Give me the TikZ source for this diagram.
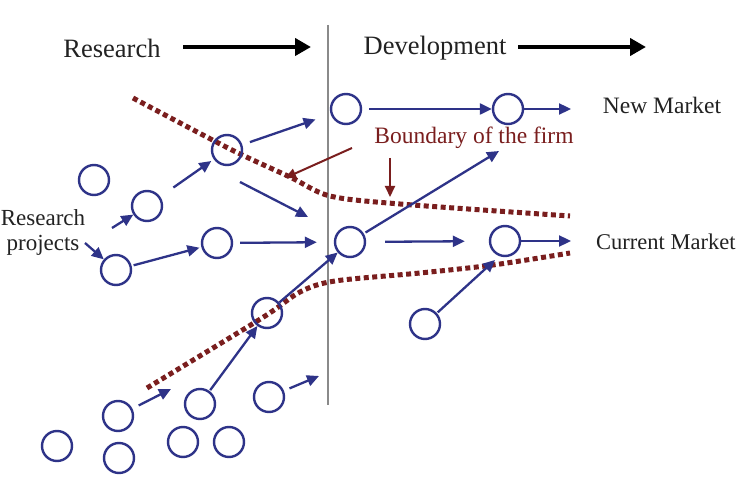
\documentclass[tikz,border=0pt]{standalone}
\usepackage{fontspec}
\setmainfont{Liberation Serif}
\usetikzlibrary{arrows.meta}
\definecolor{navy}{HTML}{2E3388}
\definecolor{firm}{HTML}{7A1E1E}
\definecolor{vline}{HTML}{8A8A8A}
\definecolor{txt}{HTML}{222222}
\begin{document}
\begin{tikzpicture}[x=1pt,y=-1pt,
  proj/.style={circle,draw=navy,line width=2.4pt,minimum size=30pt,inner sep=0pt},
  arr/.style={draw=navy,line width=2.3pt,-{Triangle[length=12pt,width=11pt]}},
  bigarr/.style={draw=black,line width=4.5pt,-{Triangle[length=16pt,width=17pt]}},
  redarr/.style={draw=firm,line width=2pt,-{Triangle[length=11pt,width=10pt]}},
  bound/.style={draw=firm,line width=5pt,dash pattern=on 5pt off 3.5pt},
  head/.style={font=\fontsize{26.5}{29}\selectfont,text=txt,inner sep=0pt},
  lab/.style={font=\fontsize{23.5}{25}\selectfont,text=txt,inner sep=0pt}]
\useasboundingbox (0,0) rectangle (741,486);
\fill[white] (0,0) rectangle (741,486);

% vertical divider
\coordinate (vt) at (328,25);
\coordinate (vb) at (328,405);
\draw[vline,line width=2.4pt] (vt) -- (vb);

% headers
\node[head] (research) at (112,48) {Research};
\node[head] (development) at (435,48) {Development};
\coordinate (ra1) at (183,47); \coordinate (ra2) at (311,47);
\coordinate (da1) at (518,47); \coordinate (da2) at (646,47);
\draw[bigarr] (ra1) -- (ra2);
\draw[bigarr] (da1) -- (da2);

% boundary of the firm (dotted)
\draw[bound] plot[smooth,tension=0.5] coordinates {(133,98) (230,149) (290,177) (330,196) (400,204) (570,216)};
\draw[bound] plot[smooth,tension=0.5] coordinates {(147,388) (262,318) (300,292) (335,281) (420,273) (493,265) (570,253)};

% labels
\node[lab] (newm) at (662,105) {New Market};
\node[lab,anchor=west,font=\fontsize{22.5}{25}\selectfont] (curm) at (596,242) {Current Market};
\node[lab,text=firm] (bnd) at (474,138) {Boundary of the firm};
\node[lab,align=center,font=\fontsize{23}{25}\selectfont] (rp) at (43,232) {Research\\projects};

\coordinate (b1s) at (352,148); \coordinate (b1e) at (285,178);
\coordinate (b2s) at (390,158); \coordinate (b2e) at (390,197);
\draw[redarr] (b1s) -- (b1e);
\draw[redarr] (b2s) -- (b2e);

% projects
\node[proj] (c1) at (346,109) {};
\node[proj] (c2) at (508,109) {};
\node[proj] (c3) at (227,150) {};
\node[proj] (c4) at (94,180) {};
\node[proj] (c5) at (147,206) {};
\node[proj] (c6) at (217,243) {};
\node[proj] (c7) at (116,270) {};
\node[proj] (c8) at (350,242) {};
\node[proj] (c9) at (505,241) {};
\node[proj] (c10) at (267,313) {};
\node[proj] (c11) at (425,324) {};
\node[proj] (c12) at (118,416) {};
\node[proj] (c13) at (200,404) {};
\node[proj] (c14) at (269,397) {};
\node[proj] (c15) at (57,446) {};
\node[proj] (c16) at (119,458) {};
\node[proj] (c17) at (183,442) {};
\node[proj] (c18) at (229,442) {};

% free ends
\coordinate (nm) at (571,109);
\coordinate (cm) at (571,241);
\coordinate (l1) at (112,228);
\coordinate (l2) at (85,243);
\coordinate (a7s) at (240,182); \coordinate (a7e) at (308,217);
\coordinate (a11e) at (499,151);
\coordinate (a14e) at (495,260);
\coordinate (a16e) at (171,389);
\coordinate (a17e) at (319,376);

% flows
\draw[arr,shorten <=7pt] (c1) -- (c2);
\draw[arr] (c2) -- (nm);
\draw[arr,shorten <=8pt,shorten >=16pt] (c3) -- (c1);
\draw[arr,shorten <=16pt,shorten >=3pt] (c5) -- (c3);
\draw[arr] (l1) -- (c5);
\draw[arr] (l2) -- (c7);
\draw[arr] (a7s) -- (a7e);
\draw[arr,shorten <=2pt,shorten >=2pt] (c7) -- (c6);
\draw[arr,shorten <=7pt,shorten >=17pt] (c6) -- (c8);
\draw[arr] (c10) -- (c8);
\draw[arr,shorten <=2pt] (c8) -- (a11e);
\draw[arr,shorten <=19pt,shorten >=24pt] (c8) -- (c9);
\draw[arr] (c9) -- (cm);
\draw[arr,shorten <=1pt] (c11) -- (a14e);
\draw[arr,shorten <=1pt] (c13) -- (c10);
\draw[arr,shorten <=7pt] (c12) -- (a16e);
\draw[arr,shorten <=6pt] (c14) -- (a17e);
\end{tikzpicture}
\end{document}
